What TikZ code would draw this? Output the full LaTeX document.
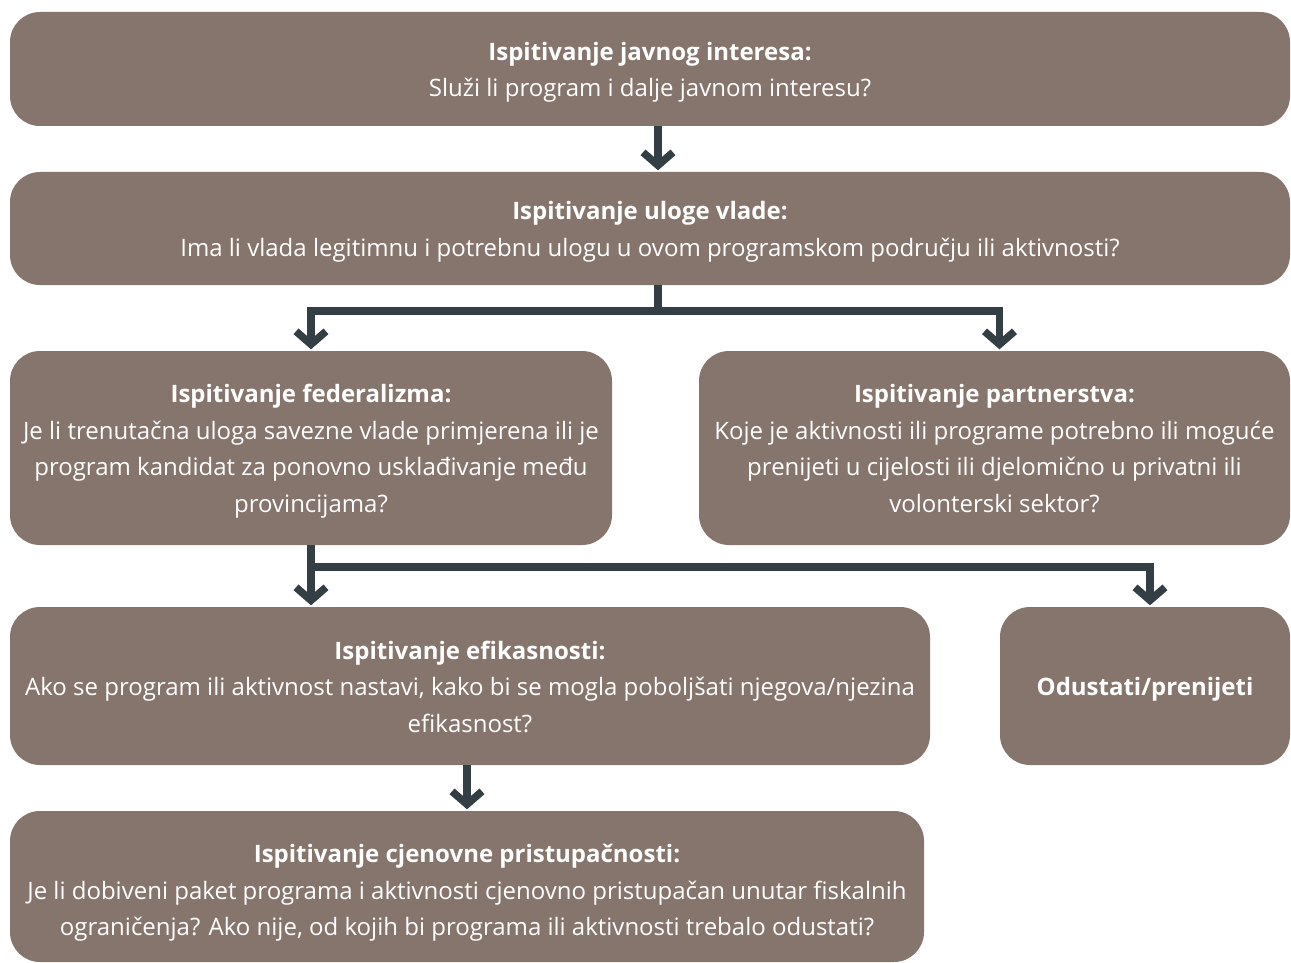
\documentclass[tikz,border=0pt]{standalone}
\usepackage{fontspec}
\setmainfont{Open Sans}
\usetikzlibrary{arrows.meta}
\definecolor{boxc}{HTML}{85756D}
\definecolor{arrc}{HTML}{343E45}
\newcommand\mytopstrut{\rule{0pt}{26pt}}
\newcommand\mybotstrut{\rule[-7pt]{0pt}{7pt}}
\tikzset{
  box/.style={fill=boxc, rounded corners=30pt, inner sep=0pt, text=white, align=center,
    font=\fontsize{24}{36.5}\selectfont},
  conn/.style={draw=arrc, line width=7.5pt},
  arr/.style={conn, -{Straight Barb[length=13pt,width=30pt,sharp]}, shorten >=1.5pt},
}
\begin{document}
\begin{tikzpicture}[x=1pt,y=-1pt]
\useasboundingbox (0,0) rectangle (1291,963);
\node[box, minimum width=1280pt, minimum height=114pt] (b1) at (650,69)
  {\mytopstrut\textbf{Ispitivanje javnog interesa:}\\Služi li program i dalje javnom interesu?\mybotstrut};
\node[box, minimum width=1280pt, minimum height=113pt] (b2) at (650,228.5)
  {\mytopstrut\textbf{Ispitivanje uloge vlade:}\\Ima li vlada legitimnu i potrebnu ulogu u ovom programskom području ili aktivnosti?\mybotstrut};
\node[box, minimum width=602pt, minimum height=194pt] (b3) at (311,448)
  {\mytopstrut\textbf{Ispitivanje federalizma:}\\Je li trenutačna uloga savezne vlade primjerena ili je\\program kandidat za ponovno usklađivanje među\\provincijama?\mybotstrut};
\node[box, minimum width=591pt, minimum height=194pt] (b4) at (994.5,448)
  {\mytopstrut\textbf{Ispitivanje partnerstva:}\\Koje je aktivnosti ili programe potrebno ili moguće\\prenijeti u cijelosti ili djelomično u privatni ili\\volonterski sektor?\mybotstrut};
\node[box, minimum width=920pt, minimum height=158pt] (b5) at (470,686)
  {\mytopstrut\textbf{Ispitivanje efikasnosti:}\\Ako se program ili aktivnost nastavi, kako bi se mogla poboljšati njegova/njezina\\efikasnost?\mybotstrut};
\node[box, minimum width=290pt, minimum height=158pt] (b6) at (1145,686)
  {\mytopstrut\textbf{Odustati/prenijeti}\mybotstrut};
\node[box, minimum width=914pt, minimum height=151pt] (b7) at (467,886.5)
  {\rule{0pt}{32pt}\textbf{Ispitivanje cjenovne pristupačnosti:}\\Je li dobiveni paket programa i aktivnosti cjenovno pristupačan unutar fiskalnih\\ograničenja? Ako nije, od kojih bi programa ili aktivnosti trebalo odustati?\mybotstrut};
% connectors
\draw[arr] ([xshift=8pt]b1.south) -- ([xshift=8pt]b1.south |- b2.north);
\draw[conn] ([xshift=8pt]b2.south) -- ++(0,26) coordinate (j1);
\draw[arr] (j1) -| (b3.north);
\draw[arr] (j1) -| ([xshift=5pt]b4.north);
\draw[conn] (b3.south) -- ++(0,22) coordinate (j2);
\draw[arr] (b3.south) -- (b3.south |- b5.north);
\draw[arr] (j2) -| ([xshift=5pt]b6.north);
\draw[arr] ([xshift=-3pt]b5.south) -- ([xshift=-3pt]b5.south |- b7.north);
\end{tikzpicture}
\end{document}
